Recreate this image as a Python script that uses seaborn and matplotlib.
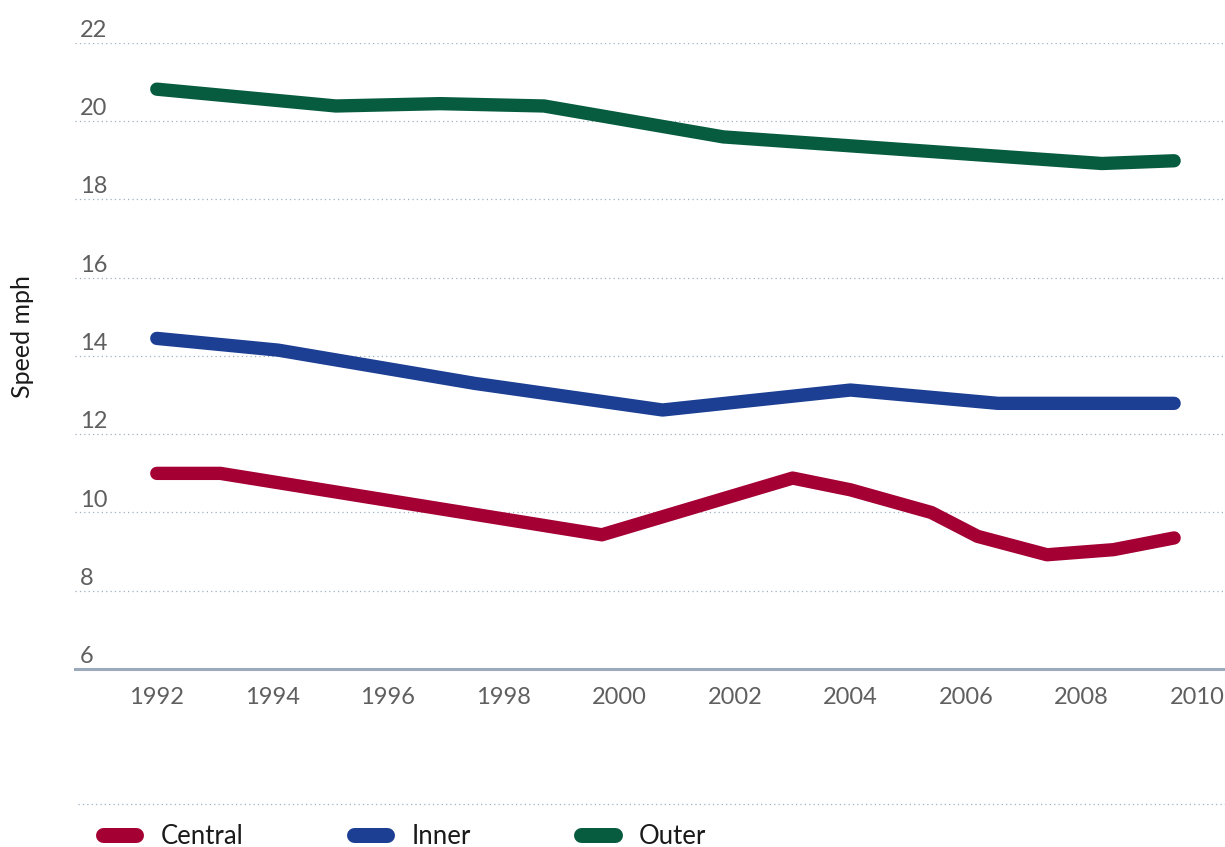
import matplotlib
matplotlib.use("Agg")
import matplotlib.pyplot as plt
from matplotlib import transforms
from matplotlib.lines import Line2D
import pandas as pd
import seaborn as sns


# Values: average traffic speed (mph) by survey date
central_years = [1992.0, 1993.1, 1999.7, 2003.0, 2004.0, 2005.4, 2006.2, 2007.4, 2008.55, 2009.6]
central_speed = [11.0, 11.0, 9.43, 10.88, 10.58, 10.0, 9.39, 8.92, 9.05, 9.35]

inner_years = [1992.0, 1994.1, 1997.5, 2000.75, 2004.0, 2006.55, 2009.6]
inner_speed = [14.45, 14.15, 13.30, 12.62, 13.13, 12.79, 12.79]

outer_years = [1992.0, 1995.1, 1996.9, 1998.7, 2001.8, 2008.35, 2009.6]
outer_speed = [20.82, 20.39, 20.45, 20.39, 19.60, 18.92, 18.99]

areas = ["Central", "Inner", "Outer"]
colors = ["#a50034", "#1c3f94", "#075c40"]
year_ticks = list(range(1992, 2011, 2))
speed_ticks = list(range(6, 23, 2))

df = pd.concat([
    pd.DataFrame({"year": central_years, "speed": central_speed, "area": "Central"}),
    pd.DataFrame({"year": inner_years, "speed": inner_speed, "area": "Inner"}),
    pd.DataFrame({"year": outer_years, "speed": outer_speed, "area": "Outer"}),
], ignore_index=True)

sns.set_theme(style="white")
plt.rcParams["font.family"] = ["Lato", "DejaVu Sans"]

fig = plt.figure(figsize=(12.25, 8.47), dpi=100)
ax = fig.add_axes([75 / 1225, 178 / 847, 1150 / 1225, 626 / 847])

sns.lineplot(
    data=df, x="year", y="speed", hue="area", hue_order=areas,
    palette=colors, linewidth=9.6, estimator=None, sort=False,
    legend=False, ax=ax, solid_capstyle="round",
)

ax.set_xlim(1990.585, 2010.48)
ax.set_ylim(6, 22)
ax.set_xlabel("")
ax.set_ylabel("")

# dotted horizontal grid
ax.set_yticks(speed_ticks)
ax.set_yticklabels([])
ax.tick_params(axis="y", length=0, left=False)
ax.grid(False)
ax.grid(axis="y", color="#9fb0c0", linewidth=0.9, linestyle=(0, (1, 2.5)))

for side in ["left", "top", "right"]:
    ax.spines[side].set_visible(False)
ax.spines["bottom"].set_color("#9aaabb")
ax.spines["bottom"].set_linewidth(2.2)

# y labels sit just above their grid line, inside the plot
label_trans = transforms.offset_copy(ax.get_yaxis_transform(), fig=fig, x=5, y=6, units="dots")
for v in speed_ticks:
    ax.text(0, v, str(v), transform=label_trans, ha="left", va="baseline",
            fontsize=17, color="#5f5f5f")

ax.set_xticks(year_ticks)
ax.set_xticklabels([str(y) for y in year_ticks])
ax.tick_params(axis="x", length=0, pad=13, labelsize=17, labelcolor="#5f5f5f")

fig.text(22 / 1225, 1 - 337 / 847, "Speed mph", rotation=90, ha="center", va="center",
         fontsize=18, color="#1a1a1a")

# separator above the legend
fig.add_artist(Line2D([78 / 1225, 1.0], [1 - 804 / 847] * 2, transform=fig.transFigure,
                      color="#9fb0c0", linewidth=0.9, linestyle=(0, (1, 2.5))))

handles = [Line2D([], [], color=c, linewidth=10.8, solid_capstyle="round") for c in colors]
fig.legend(handles, areas, loc="center left", bbox_to_anchor=(102.5 / 1225, 1 - 836 / 847),
           ncol=3, frameon=False, fontsize=18.5, handlelength=1.3, handletextpad=0.95,
           columnspacing=4.3, borderpad=0, borderaxespad=0, labelcolor="#1a1a1a")

fig.savefig("out.png", dpi=100)
